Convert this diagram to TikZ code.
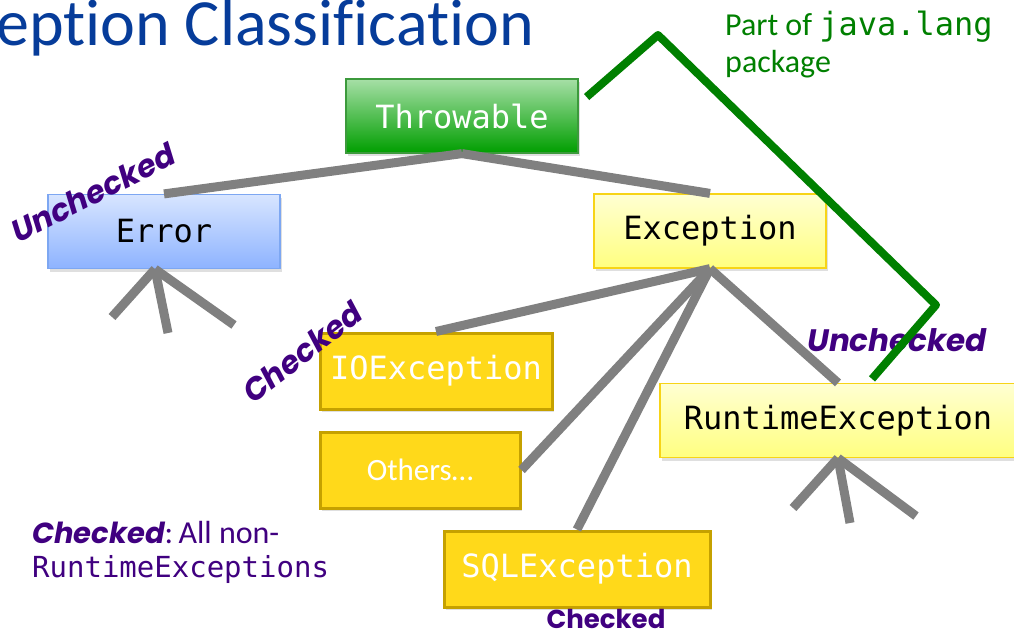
\documentclass[tikz,border=0pt]{standalone}
\usepackage{fontspec}
\setmainfont{Carlito}[Ligatures=NoCommon]
\setmonofont{DejaVu Sans Mono}
\newfontfamily\tagfont{Poppins}
\usetikzlibrary{positioning,shadows}

\definecolor{titleblue}{HTML}{063C9A}
\definecolor{javagreen}{HTML}{008000}
\definecolor{labelpurple}{HTML}{400080}
\definecolor{linkgray}{HTML}{808080}
\definecolor{goldfill}{HTML}{FFD91A}
\definecolor{goldedge}{HTML}{C5A100}
\definecolor{rootedge}{HTML}{3C9A3C}
\definecolor{roottop}{HTML}{A6DFA6}
\definecolor{rootbottom}{HTML}{009E00}
\definecolor{erroredge}{HTML}{7DA7F2}
\definecolor{errortop}{HTML}{D8E5FF}
\definecolor{errorbottom}{HTML}{8DB3FF}
\definecolor{excedge}{HTML}{F7D417}
\definecolor{exctop}{HTML}{FFFFD2}
\definecolor{excbottom}{HTML}{FFFF80}

\tikzset{
  classbox/.style={rectangle, minimum width=232pt, minimum height=74pt, inner sep=0pt,
    font=\fontsize{32}{38}\selectfont\ttfamily,
    drop shadow={opacity=0.25, shadow xshift=2pt, shadow yshift=-3pt}},
  rootbox/.style={classbox, draw=rootedge, line width=1.2pt, top color=roottop, bottom color=rootbottom, text=white},
  errorbox/.style={classbox, draw=erroredge, line width=1.2pt, top color=errortop, bottom color=errorbottom, text=black},
  excbox/.style={classbox, draw=excedge, line width=1.2pt, top color=exctop, bottom color=excbottom, text=black},
  goldbox/.style={classbox, minimum height=76pt, draw=goldedge, line width=3pt, fill=goldfill, text=white},
  link/.style={draw=linkgray, line width=9pt},
  pkgline/.style={draw=javagreen, line width=8pt, line join=round},
  tag/.style={text=labelpurple, inner sep=0pt, font=\tagfont\bfseries\itshape\fontsize{31}{36}\selectfont}
}

\begin{document}
\begin{tikzpicture}[x=1pt, y=-1pt]
\path[fill=white, use as bounding box] (0,0) rectangle (1014,635);

% title and notes
\node[anchor=base west, inner sep=0pt, text=titleblue, font=\fontsize{66}{72}\selectfont] (title) at (-4,45) {eption Classification};
\node[anchor=base west, inner sep=0pt, align=left, text=javagreen, font=\fontsize{32}{37}\selectfont] (pkgnote) at (725,72) {Part of \texttt{java.lang}\\package};
\node[anchor=base west, inner sep=0pt, align=left, text=labelpurple, font=\fontsize{32}{34}\selectfont] (checkednote) at (32,577) {{\tagfont\bfseries\itshape\fontsize{29}{34}\selectfont Checked}:\,All non-\\\texttt{\fontsize{29}{34}\selectfont RuntimeExceptions}};

% classes
\node[rootbox] (throwable) at (462,116) {Throwable};
\node[errorbox] (error) at (164,231.5) {Error};
\node[excbox] (exception) at (710,231) {Exception};
\node[goldbox] (ioexc) at (436,371) {IOException};
\node[goldbox, minimum width=200pt, font=\fontsize{31}{36}\selectfont] (others) at (420,470) {Others…};
\node[goldbox, minimum width=266pt] (sqlexc) at (577,569) {SQLException};
\node[excbox, minimum width=356pt] (runtime) at (838,420.5) {RuntimeException};

% hierarchy
\draw[link] (throwable.south) -- (error.north);
\draw[link] (throwable.south) -- (exception.north);
\foreach \child in {ioexc.north, others.east, sqlexc.north, runtime.north}
  \draw[link] (exception.south) -- (\child);

\coordinate (errtop) at ([xshift=-9pt]error.south);
\coordinate (err1) at (112,317);
\coordinate (err2) at (168,333);
\coordinate (err3) at (234,325);
\foreach \leaf in {err1, err2, err3}
  \draw[link] (errtop) -- (\leaf);

\coordinate (rt1) at (793,508);
\coordinate (rt2) at (850,523);
\coordinate (rt3) at (916,516);
\foreach \leaf in {rt1, rt2, rt3}
  \draw[link] (runtime.south) -- (\leaf);

% labels
\node[tag, rotate=27] (errtag) at (93,193) {Unchecked};
\node[tag, rotate=38] (iotag) at (302,352) {Checked};
\node[tag, anchor=base west] (rttag) at (807,351) {Unchecked};
\node[tag, anchor=base, font=\tagfont\bfseries\fontsize{26}{30}\selectfont] (sqltag) at (606,628) {Checked};

% java.lang bracket
\coordinate (peak) at (658,35);
\coordinate (elbow) at (936,305);
\draw[pkgline] ([shift={(8,-19)}]throwable.east) -- (peak) -- (elbow) -- ([shift={(34,-4)}]runtime.north);

\end{tikzpicture}
\end{document}
